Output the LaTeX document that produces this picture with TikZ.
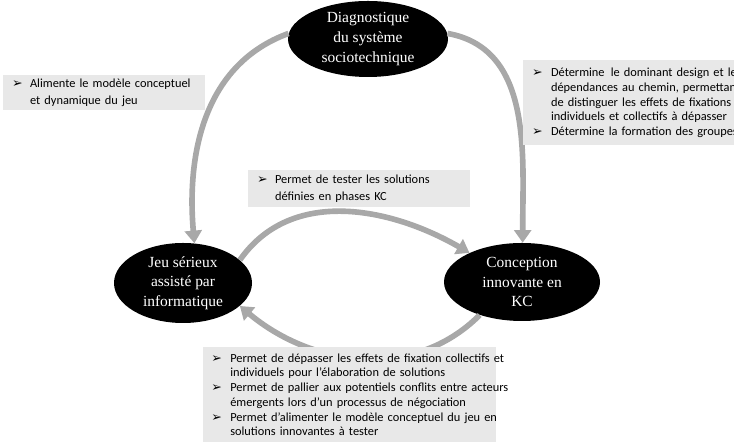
\documentclass[tikz,border=0pt]{standalone}
\usepackage{fontspec}
\usepackage{tikz}
\usetikzlibrary{arrows.meta, shapes.geometric}
\newfontfamily\boxfont{Carlito}
\newfontfamily\ovalfont{Liberation Serif}
\newfontfamily\symbfont{DejaVu Sans}
\definecolor{arrow_colour}{RGB}{168, 168, 168}
\definecolor{box_colour}{RGB}{232, 232, 232}
\newlength{\largpuce}
\setlength{\largpuce}{12.8pt}
\newcommand{\puce}{\makebox[\largpuce][l]{\symbfont\fontsize{9}{9}\selectfont ➢}}
\newcommand{\retrait}{\hspace*{\largpuce}}

\begin{document}
\begin{tikzpicture}[
    >=latex,
    oval/.style={ellipse, fill=black, text=white, align=center, inner sep=0pt,
                 font=\ovalfont\fontsize{11}{14}\selectfont},
    note/.style={fill=box_colour, anchor=north west, align=left, inner xsep=0.22cm,
                 inner ysep=0pt, font=\boxfont\fontsize{8.8}{12}\selectfont},
    tight/.style={font=\boxfont\fontsize{8.8}{10.5}\selectfont},
    fleche/.style={draw=arrow_colour, line width=4pt,
                   -{Triangle[width=12pt, length=9pt]}},
]
\useasboundingbox (0,0) rectangle (18.35,11.125);

% les trois phases
\node[oval, minimum width=4.0cm,  minimum height=1.9cm]  (diag) at (9.2, 10.15)
    {Diagnostique\\du système\\sociotechnique};
\node[oval, minimum width=3.45cm, minimum height=2.0cm]  (jeu)  at (4.575, 4.05)
    {Jeu sérieux\\assisté par\\informatique};
\node[oval, minimum width=3.9cm,  minimum height=1.95cm] (kc)   at (13.05, 4.075)
    {Conception\\innovante en\\KC};

% liens
\draw[fleche] (diag.176) to[out=200, in=95] (jeu.74);
\draw[fleche] (diag.4)   to[out=-10, in=90] (kc.89);
\draw[fleche] (jeu.22)   to[out=55, in=150] (kc.151);
\draw[fleche] (kc.218)   to[out=-135, in=-40] (jeu.-22);

% commentaires
\node[note, text width=4.6cm, minimum height=0.875cm] (alim) at (0.075, 9.25)
    {\puce Alimente le modèle conceptuel\\\retrait et dynamique du jeu};
\node[note, tight, text width=6.5cm, minimum height=2.125cm] (domin) at (13.075, 9.625)
    {\setlength{\largpuce}{13.5pt}%
     \puce Détermine\ \,le dominant design et les\\
     \retrait dépendances au chemin, permettant\\
     \retrait de distinguer les effets de fixations\\
     \retrait individuels et collectifs à dépasser\\
     \puce Détermine la formation des groupes};
\node[note, text width=5.1cm, minimum height=0.925cm] (tester) at (6.2, 6.875)
    {\puce Permet de tester les solutions\\\retrait définies en phases KC};
\node[note, tight, inner xsep=0.2cm, text width=6.925cm, minimum height=2.375cm] (depas) at (5.075, 2.45)
    {\setlength{\largpuce}{13.5pt}%
     \puce\mbox{Permet de dépasser les effets de fixation collectifs et}\\
     \retrait\mbox{individuels pour l’élaboration de solutions}\\
     \puce\mbox{Permet de pallier aux potentiels conflits entre acteurs}\\
     \retrait\mbox{émergents lors d’un processus de négociation}\\
     \puce\mbox{Permet d’alimenter le modèle conceptuel du jeu en}\\
     \retrait\mbox{solutions innovantes à tester}};
\end{tikzpicture}
\end{document}
